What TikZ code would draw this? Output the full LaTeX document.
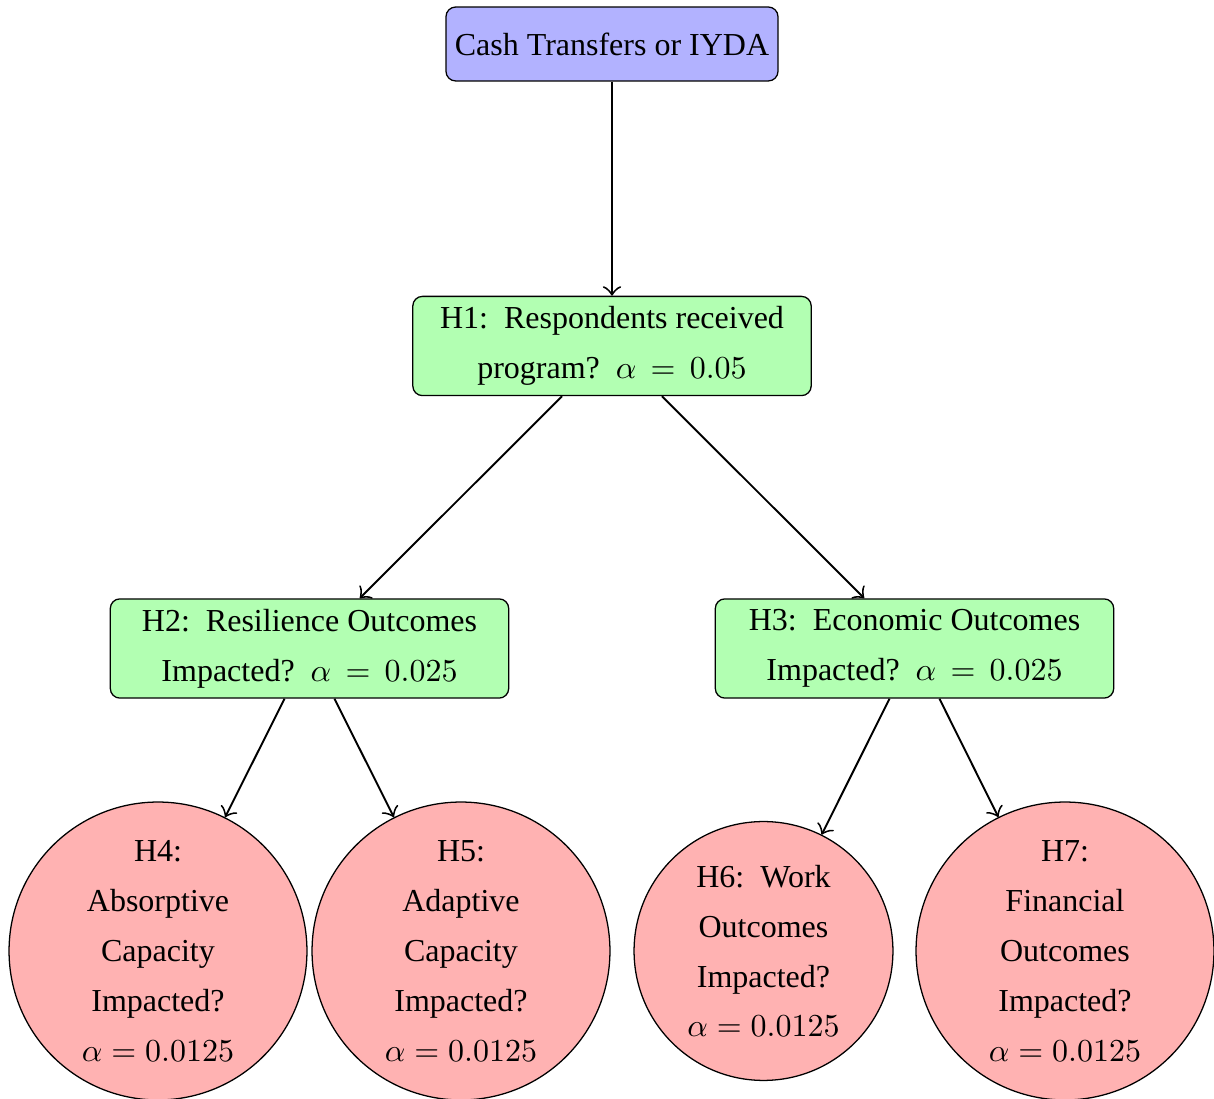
\documentclass[tikz,border=0pt]{standalone}
\usepackage{fontspec}
\setmainfont{Liberation Serif}
\usetikzlibrary{arrows.meta}
\newcommand{\csp}{\hspace{0.5em}}
\newcommand{\eqsp}{\mathrel{\,=\,}}
\begin{document}
\begin{tikzpicture}[x=0.3125pt,y=-0.3125pt,
  base/.style={draw=black, align=center, inner sep=0pt, font=\fontsize{10}{15.6}\selectfont},
  topbox/.style={base, rectangle, rounded corners=3pt, fill=blue!30, minimum width=103.75pt, minimum height=23.1pt},
  hbox/.style={base, rectangle, rounded corners=3pt, fill=green!30, minimum width=124.5pt, minimum height=31pt},
  hcirc/.style={base, circle, fill=red!30, minimum size=93.1pt},
  conn/.style={-{Classical TikZ Rightarrow[scale=1.35]}, semithick}]
\useasboundingbox (0,0) rectangle (1214,1099);
\node[topbox] (cash) at (612,44) {Cash Transfers or IYDA};
\node[hbox] (h1) at (612,346) {H1:\csp Respondents received\\ program?\, $\alpha \eqsp 0.05$};
\node[hbox] (h2) at (309.5,648.5) {H2:\csp Resilience Outcomes\\ Impacted?\, $\alpha \eqsp 0.025$};
\node[hbox] (h3) at (914.5,648.5) {H3:\csp Economic Outcomes\\ Impacted?\, $\alpha \eqsp 0.025$};
\node[hcirc] (h4) at (158,951) {H4:\\ Absorptive\\ Capacity\\ Impacted?\\ $\alpha = 0.0125$};
\node[hcirc] (h5) at (461,951) {H5:\\ Adaptive\\ Capacity\\ Impacted?\\ $\alpha = 0.0125$};
\node[hcirc, minimum size=80.9pt] (h6) at (763.5,951) {H6:\csp Work\\ Outcomes\\ Impacted?\\ $\alpha = 0.0125$};
\node[hcirc] (h7) at (1065,951) {H7:\\ Financial\\ Outcomes\\ Impacted?\\ $\alpha = 0.0125$};
\draw[conn] (cash) -- (h1);
\draw[conn] ([xshift=-15.625pt]h1.south) -- (h2);
\draw[conn] ([xshift=15.625pt]h1.south) -- (h3);
\draw[conn] ([xshift=-7.8pt]h2.south) -- (h4);
\draw[conn] ([xshift=7.8pt]h2.south) -- (h5);
\draw[conn] ([xshift=-7.8pt]h3.south) -- (h6);
\draw[conn] ([xshift=7.8pt]h3.south) -- (h7);
\end{tikzpicture}
\end{document}
